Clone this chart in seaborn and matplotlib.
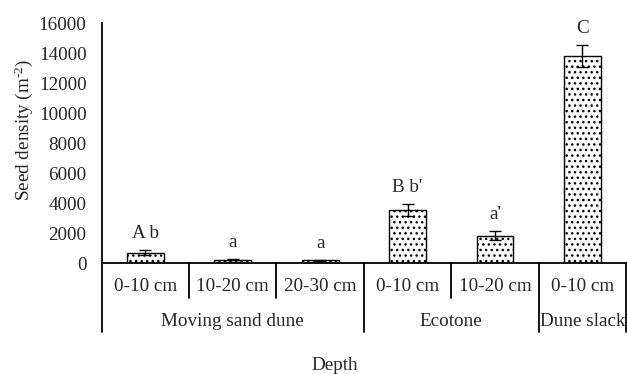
import pandas as pd
import numpy as np
import matplotlib
matplotlib.use('Agg')
import matplotlib.pyplot as plt
import matplotlib.transforms as mtransforms
import seaborn as sns

# values
habitats = ['Moving sand dune', 'Moving sand dune', 'Moving sand dune',
            'Ecotone', 'Ecotone', 'Dune slack']
depths = ['0-10 cm', '10-20 cm', '20-30 cm', '0-10 cm', '10-20 cm', '0-10 cm']
density = [720, 240, 210, 3570, 1850, 13800]
density_se = [180, 40, 40, 400, 320, 730]
letters = ['A b', 'a', 'a', "B b'", "a'", 'C']
group_names = ['Moving sand dune', 'Ecotone', 'Dune slack']

sns.set_style('white')
plt.rcParams['font.family'] = ['Liberation Serif', 'DejaVu Serif']
plt.rcParams['mathtext.fontset'] = 'custom'
plt.rcParams['mathtext.rm'] = 'Liberation Serif'
plt.rcParams['mathtext.it'] = 'Liberation Serif:italic'
plt.rcParams['hatch.linewidth'] = 1.0
fs = 13.8

df = pd.DataFrame({'key': [h + ' ' + d for h, d in zip(habitats, depths)],
                   'density': density, 'se': density_se})

fig = plt.figure(figsize=(6.27, 3.74), dpi=100)
ax = fig.add_axes([0.1622, 0.2955, 0.8362, 0.643])

sns.barplot(data=df, x='key', y='density', color='white', edgecolor='black',
            linewidth=1.0, width=0.42, errorbar=None, ax=ax, saturation=1)
for p in ax.patches:
    p.set_hatch('...')
    p.set_facecolor('white')

xs = np.arange(len(df))
ax.errorbar(xs, df['density'], yerr=df['se'], fmt='none', ecolor='black',
            elinewidth=1.0, capsize=4, capthick=1.0)

for x, top, err, lab in zip(xs, density, density_se, letters):
    ax.annotate(lab, (x, top + err), xytext=(0, 12), textcoords='offset points',
                ha='center', va='center', fontsize=fs)

ax.set_ylim(0, 16000)
ax.set_xlim(-0.5, len(df) - 0.5)
ax.set_yticks(range(0, 16001, 2000))
ax.tick_params(axis='y', direction='in', length=4, width=1.0, labelsize=fs, pad=11)
ax.set_xticks([])
ax.set_xlabel('')
ax.set_ylabel(r'Seed density (m$^{\text{-}2}$)', fontsize=fs)
ax.yaxis.set_label_coords(-0.128, 0.555)
for s in ['top', 'right']:
    ax.spines[s].set_visible(False)
for s in ['left', 'bottom']:
    ax.spines[s].set_linewidth(1.3)
    ax.spines[s].set_color('black')

# category table under the axis
trans = mtransforms.blended_transform_factory(ax.transData, ax.transAxes)
sub_bottom = -0.142
grp_bottom = -0.285
group_edges = [-0.5]
for i in range(1, len(habitats)):
    if habitats[i] != habitats[i - 1]:
        group_edges.append(i - 0.5)
group_edges.append(len(habitats) - 0.5)

for i in range(len(habitats) - 1):
    xb = i + 0.5
    if xb not in group_edges:
        ax.plot([xb, xb], [0, sub_bottom], transform=trans, color='black',
                lw=1.3, clip_on=False)
for xb in group_edges:
    ax.plot([xb, xb], [0, grp_bottom], transform=trans, color='black',
            lw=1.3, clip_on=False)

for x, d in zip(xs, depths):
    ax.text(x, -0.0965, d, transform=trans, ha='center', va='center', fontsize=fs)
for g, lo, hi in zip(group_names, group_edges[:-1], group_edges[1:]):
    ax.text((lo + hi) / 2, -0.242, g, transform=trans, ha='center', va='center',
            fontsize=fs)

fig.text(0.534, 0.024, 'Depth', ha='center', va='center', fontsize=fs)

fig.savefig('out.png', dpi=100)
